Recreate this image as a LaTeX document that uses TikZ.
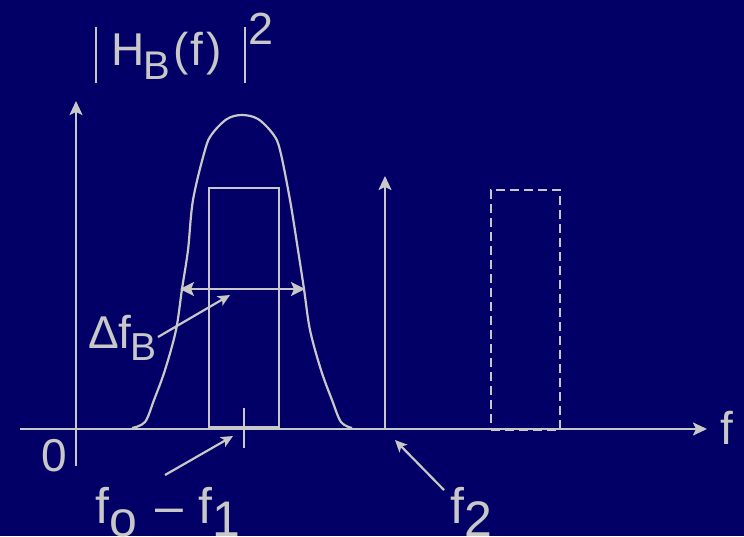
\documentclass[tikz,border=0pt]{standalone}
\usepackage{fontspec}
\setmainfont{Liberation Sans}
\usetikzlibrary{arrows.meta}
\definecolor{bgnavy}{RGB}{2,0,102}
\definecolor{ink}{RGB}{200,200,200}
\begin{document}
\begin{tikzpicture}[x=1pt,y=-1pt,
  line/.style={draw=ink,line width=2.2pt},
  arr/.style={line,-{Stealth[length=14pt,width=13pt,inset=3pt]}},
  sarr/.style={line,-{Stealth[length=12pt,width=11pt,inset=3pt]}},
  lbl/.style={text=ink,inner sep=0pt,anchor=base west,font=\fontsize{46}{46}\selectfont},
  big/.style={text=ink,inner sep=0pt,anchor=base west,font=\fontsize{50}{50}\selectfont}]
\fill[bgnavy] (0,0) rectangle (744,536);
\useasboundingbox (0,0) rectangle (744,536);
% axes
\coordinate (xs) at (20,429); \coordinate (xe) at (707,429);
\coordinate (ys) at (76,466); \coordinate (ye) at (76,101);
\draw[arr] (xs) -- (xe);
\draw[arr] (ys) -- (ye);
% title
\coordinate (b1t) at (96,27); \coordinate (b1b) at (96,83);
\coordinate (b2t) at (245,27); \coordinate (b2b) at (245,83);
\draw[line,line width=1.6pt] (b1t) -- (b1b);
\draw[line,line width=1.6pt] (b2t) -- (b2b);
\node[lbl] (title) at (111,65) {H\hspace{-1pt}\raisebox{-14pt}{\fontsize{40}{40}\selectfont B}\hspace{3pt}(\hspace{2pt}f\hspace{3pt})};
\node[lbl,font=\fontsize{45}{45}\selectfont] (sq) at (248,44) {2};
% labels on axes
\node[lbl] (zero) at (41,471) {0};
\node[lbl] (fax) at (720,444) {f};
% bell curve
\draw[line] plot[smooth,tension=0.55] coordinates {
 (132,428) (145,422) (154,400) (165,370) (176,330) (182,289) (188,250) (193,200)
 (205,150) (212,134) (227,119) (242,115) (258,119) (273,134) (280,150)
 (290,200) (298,250) (304,289) (310,330) (321,370) (332,400) (341,422) (352,428)};
% passband rectangle
\node[draw=ink,line width=2.2pt,inner sep=0pt,minimum width=70pt,minimum height=239pt,anchor=north west] (rect) at (208,187) {};
% tick
\coordinate (tt) at (244,408); \coordinate (tb) at (244,448);
\draw[line] (tt) -- (tb);
% bandwidth double arrow
\coordinate (dl) at (180,289); \coordinate (dr) at (305,289);
\draw[line,{Stealth[length=14pt,width=14pt,inset=3pt]}-{Stealth[length=14pt,width=14pt,inset=3pt]}] (dl) -- (dr);
% Delta f_B label
\node[lbl] (dfb) at (88,348) {Δf\hspace{-1pt}\raisebox{-12pt}{\fontsize{39}{39}\selectfont B}};
\coordinate (da) at (158,337); \coordinate (db) at (230,295);
\draw[sarr] (da) -- (db);
% f_o - f_1
\node[big] (fof1) at (95,523) {f\raisebox{-13pt}{o}\hspace{19pt}–\hspace{15pt}f\raisebox{-13pt}{1}};
\coordinate (fa) at (165,475); \coordinate (fb) at (233,436);
\draw[sarr] (fa) -- (fb);
% f2 line
\coordinate (vs) at (385,429); \coordinate (ve) at (385,176);
\draw[arr] (vs) -- (ve);
\node[big] (ftwo) at (450,523) {f\raisebox{-13pt}{2}};
\coordinate (ga) at (444,490); \coordinate (gb) at (395,440);
\draw[sarr] (ga) -- (gb);
% dashed rectangle
\node[draw=ink,line width=2.2pt,dash pattern=on 9pt off 5pt,inner sep=0pt,minimum width=69pt,minimum height=240pt,anchor=north west] (drect) at (490,189) {};
\end{tikzpicture}
\end{document}
